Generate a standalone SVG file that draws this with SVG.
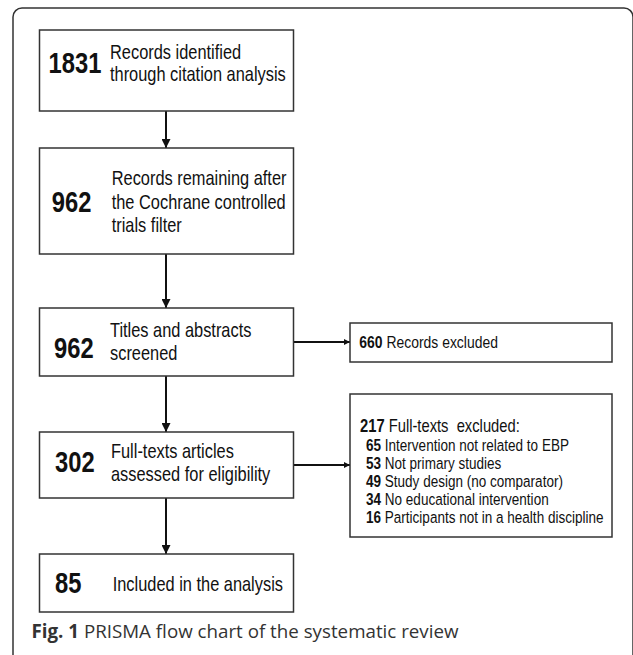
<svg xmlns="http://www.w3.org/2000/svg" width="633" height="655" viewBox="0 0 633 655">
<style>
.box{fill:#fff;stroke:#333;stroke-width:1.5}
.t{font-family:"Liberation Sans",Arial,sans-serif;font-size:20px;fill:#111}
.n{font-family:"Liberation Sans",Arial,sans-serif;font-size:29px;font-weight:bold;fill:#111}
.s{font-family:"Liberation Sans",Arial,sans-serif;font-size:16.5px;fill:#111}
.b{font-weight:bold}
.ln{stroke:#111;stroke-width:2;fill:none}
.cap{font-family:"Open Sans","Noto Sans",sans-serif;font-size:19px;fill:#333}
</style>
<defs>
<marker id="ah" viewBox="0 0 10 10" refX="10" refY="5" markerWidth="4.5" markerHeight="4.5" orient="auto" markerUnits="strokeWidth">
<path d="M0,0 L10,5 L0,10 z" fill="#111"/>
</marker>
<marker id="ahs" viewBox="0 0 10 10" refX="10" refY="5" markerWidth="3" markerHeight="3.5" orient="auto" markerUnits="strokeWidth">
<path d="M0,0 L10,5 L0,10 z" fill="#111"/>
</marker>
</defs>
<path d="M13,665 V17 A9,9 0 0 1 22,8 H624 A9,9 0 0 1 633,17 V665" fill="none" stroke="#333" stroke-width="1.5"/>
<g id="connectors">
<line class="ln" x1="166" y1="111" x2="166" y2="148" marker-end="url(#ah)"/>
<line class="ln" x1="166" y1="254" x2="166" y2="308" marker-end="url(#ah)"/>
<line class="ln" x1="166" y1="376" x2="166" y2="432" marker-end="url(#ah)"/>
<line class="ln" x1="166" y1="498" x2="166" y2="554" marker-end="url(#ah)"/>
<line class="ln" x1="293.5" y1="342" x2="350" y2="342" marker-end="url(#ahs)"/>
<line class="ln" x1="293.5" y1="465" x2="350" y2="465" marker-end="url(#ahs)"/>
</g>
<g id="node1">
<rect class="box" x="39.5" y="30" width="254" height="81"/>
<text class="n" transform="translate(48.5,73) scale(0.82,1)">1831</text>
<text class="t" transform="translate(110,59) scale(0.82,1)">Records identified</text>
<text class="t" transform="translate(110,81) scale(0.82,1)">through citation analysis</text>
</g>
<g id="node2">
<rect class="box" x="39.5" y="148" width="254" height="106"/>
<text class="n" transform="translate(51.7,211.7) scale(0.82,1)">962</text>
<text class="t" transform="translate(111.7,185) scale(0.82,1)">Records remaining after</text>
<text class="t" transform="translate(111.7,209) scale(0.82,1)">the Cochrane controlled</text>
<text class="t" transform="translate(111.7,232) scale(0.82,1)">trials filter</text>
</g>
<g id="node3">
<rect class="box" x="39.5" y="308" width="254" height="68"/>
<text class="n" transform="translate(54,358) scale(0.82,1)">962</text>
<text class="t" transform="translate(110,337) scale(0.82,1)">Titles and abstracts</text>
<text class="t" transform="translate(110,360) scale(0.82,1)">screened</text>
</g>
<g id="node4">
<rect class="box" x="350" y="323" width="262" height="39"/>
<text class="s" style="font-size:17px" transform="translate(359.3,347.5) scale(0.82,1)"><tspan class="b">660</tspan> Records excluded</text>
</g>
<g id="node5">
<rect class="box" x="39.5" y="432" width="254" height="66"/>
<text class="n" transform="translate(55,472) scale(0.82,1)">302</text>
<text class="t" transform="translate(111,458) scale(0.82,1)">Full-texts articles</text>
<text class="t" transform="translate(111,481) scale(0.82,1)">assessed for eligibility</text>
</g>
<g id="node6">
<rect class="box" x="350" y="394" width="262" height="143"/>
<text class="s" style="font-size:18px;white-space:pre" transform="translate(360,432) scale(0.82,1)"><tspan class="b">217</tspan> Full-texts  excluded:</text>
<text class="s" transform="translate(366,450.5) scale(0.82,1)"><tspan class="b">65</tspan> Intervention not related to EBP</text>
<text class="s" transform="translate(366,468.5) scale(0.82,1)"><tspan class="b">53</tspan> Not primary studies</text>
<text class="s" transform="translate(366,486.5) scale(0.82,1)"><tspan class="b">49</tspan> Study design (no comparator)</text>
<text class="s" transform="translate(366,504.5) scale(0.82,1)"><tspan class="b">34</tspan> No educational intervention</text>
<text class="s" transform="translate(366,522.5) scale(0.82,1)"><tspan class="b">16</tspan> Participants not in a health discipline</text>
</g>
<g id="node7">
<rect class="box" x="39.5" y="554" width="254" height="58"/>
<text class="n" transform="translate(55,592.7) scale(0.82,1)">85</text>
<text class="t" transform="translate(112.7,591) scale(0.82,1)">Included in the analysis</text>
</g>
<text class="cap" x="31.5" y="638" textLength="427" lengthAdjust="spacingAndGlyphs"><tspan font-weight="bold">Fig. 1</tspan> PRISMA flow chart of the systematic review</text>
</svg>
